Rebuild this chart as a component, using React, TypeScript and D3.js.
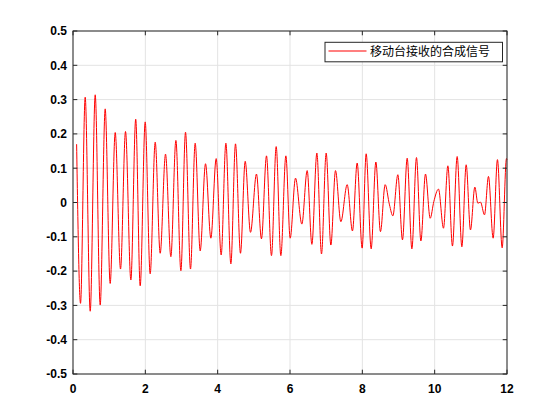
import React from "react";
import * as d3 from "d3";

const times: number[] = [
  0.10, 0.208, 0.337, 0.476, 0.614, 0.752, 0.890, 1.028, 1.167, 1.314,
  1.452, 1.600, 1.734, 1.858, 1.996, 2.134, 2.273, 2.411, 2.558, 2.706,
  2.845, 2.983, 3.111, 3.249, 3.378, 3.517, 3.664, 3.812, 3.959, 4.097,
  4.227, 4.365, 4.493, 4.631, 4.761, 4.908, 5.073, 5.211, 5.350, 5.488,
  5.618, 5.747, 5.886, 6.005, 6.152, 6.328, 6.475, 6.605, 6.743, 6.871,
  7.000, 7.130, 7.258, 7.406, 7.581, 7.727, 7.857, 7.995, 8.106, 8.244,
  8.374, 8.501, 8.631, 8.751, 8.844, 8.982, 9.110, 9.240, 9.370, 9.497,
  9.619, 9.746, 9.876, 9.977, 10.106, 10.244, 10.365, 10.492, 10.622, 10.752,
  10.871, 10.990, 11.111, 11.194, 11.267, 11.378, 11.488, 11.617, 11.736, 11.866,
  11.985, 12.0,
];

const signal: number[] = [
  0.170, -0.294, 0.307, -0.317, 0.314, -0.299, 0.273, -0.236, 0.204, -0.194,
  0.207, -0.226, 0.243, -0.243, 0.235, -0.208, 0.176, -0.148, 0.141, -0.158,
  0.181, -0.199, 0.205, -0.194, 0.173, -0.141, 0.113, -0.104, 0.128, -0.153,
  0.173, -0.179, 0.171, -0.148, 0.120, -0.087, 0.083, -0.106, 0.136, -0.155,
  0.163, -0.155, 0.136, -0.104, 0.071, -0.063, 0.093, -0.122, 0.144, -0.150,
  0.144, -0.124, 0.093, -0.056, 0.052, -0.083, 0.115, -0.133, 0.142, -0.135,
  0.118, -0.085, 0.052, -0.007, -0.039, 0.081, -0.109, 0.129, -0.135, 0.131,
  -0.112, 0.083, -0.046, 0.003, 0.039, -0.075, 0.107, -0.127, 0.134, -0.129,
  0.110, -0.080, 0.045, -0.002, 0.001, -0.036, 0.076, -0.104, 0.125, -0.132,
  0.128, 0.125,
];

const xTicks: number[] = [0, 2, 4, 6, 8, 10, 12];
const yTicks: number[] = [-0.5, -0.4, -0.3, -0.2, -0.1, 0, 0.1, 0.2, 0.3, 0.4, 0.5];
const legendLabel = "移动台接收的合成信号";

const W = 560;
const H = 420;
const left = 73;
const right = 507;
const top = 31;
const bottom = 374;

export default function App() {
  const x = d3.scaleLinear().domain([0, 12]).range([left, right]);
  const y = d3.scaleLinear().domain([-0.5, 0.5]).range([bottom, top]);
  const pts = times.map((t, i) => [t, signal[i]] as [number, number]);
  const line = d3
    .line<[number, number]>()
    .x((d) => x(d[0]))
    .y((d) => y(d[1]))
    .curve(d3.curveMonotoneX);
  const axisColor = "#262626";
  const gridColor = "#e3e3e3";
  const tickLen = 4.3;
  const fmt = (v: number) => (Math.abs(v) < 1e-9 ? "0" : String(+v.toFixed(1)));
  const tickFont = "'Liberation Sans', Arial, sans-serif";

  return (
    <svg
      width={W}
      height={H}
      style={{ position: "absolute", left: 0, top: 0, display: "block", background: "#fff" }}
    >
      <rect x={0} y={0} width={W} height={H} fill="#fff" />
      {xTicks.map((t) => (
        <line key={"gx" + t} x1={x(t)} x2={x(t)} y1={top} y2={bottom} stroke={gridColor} strokeWidth={1} />
      ))}
      {yTicks.map((t) => (
        <line key={"gy" + t} x1={left} x2={right} y1={y(t)} y2={y(t)} stroke={gridColor} strokeWidth={1} />
      ))}
      <path d={line(pts) || ""} fill="none" stroke="#ff0000" strokeWidth={1} />
      <rect x={left} y={top} width={right - left} height={bottom - top} fill="none" stroke={axisColor} strokeWidth={1} />
      {xTicks.map((t) => (
        <g key={"tx" + t}>
          <line x1={x(t)} x2={x(t)} y1={bottom} y2={bottom - tickLen} stroke={axisColor} />
          <line x1={x(t)} x2={x(t)} y1={top} y2={top + tickLen} stroke={axisColor} />
          <text
            x={x(t)}
            y={bottom + 19}
            textAnchor="middle"
            fontFamily={tickFont}
            fontWeight="bold"
            fontSize={12}
            fill="#000"
          >
            {fmt(t)}
          </text>
        </g>
      ))}
      {yTicks.map((t) => (
        <g key={"ty" + t}>
          <line x1={left} x2={left + tickLen} y1={y(t)} y2={y(t)} stroke={axisColor} />
          <line x1={right} x2={right - tickLen} y1={y(t)} y2={y(t)} stroke={axisColor} />
          <text
            x={left - 6}
            y={y(t) + 4.3}
            textAnchor="end"
            fontFamily={tickFont}
            fontWeight="bold"
            fontSize={12}
            fill="#000"
          >
            {fmt(t)}
          </text>
        </g>
      ))}
      <g>
        <rect x={325} y={42.3} width={177.5} height={19.5} fill="#fff" stroke={axisColor} strokeWidth={1} />
        <line x1={328.5} x2={366.5} y1={51} y2={51} stroke="#ff0000" strokeWidth={1.2} />
        <text
          x={370}
          y={56}
          fontFamily="'Noto Sans CJK SC', sans-serif"
          fontSize={12}
          fill="#000"
        >
          {legendLabel}
        </text>
      </g>
    </svg>
  );
}
